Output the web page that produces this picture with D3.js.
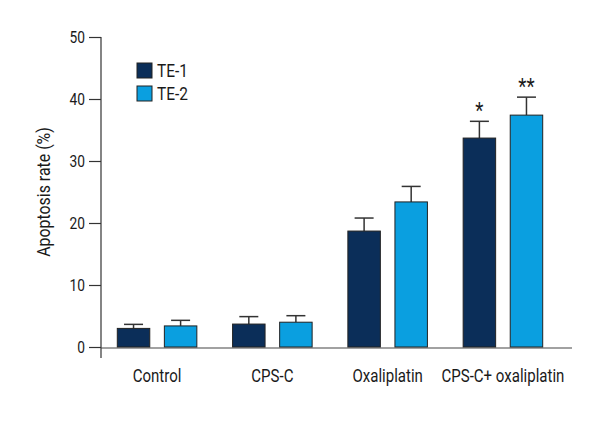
<!DOCTYPE html>
<html><head><meta charset="utf-8">
<script src="https://cdn.jsdelivr.net/npm/d3@7"></script>
<style>
html,body{margin:0;padding:0;background:#fff;}
text{font-family:Roboto,"Noto Sans",sans-serif;fill:#1a1a1a;}
</style></head>
<body><svg id="chart" width="600" height="440"></svg>
<script>
const categories = ["Control", "CPS-C", "Oxaliplatin", "CPS-C+ oxaliplatin"];
const seriesNames = ["TE-1", "TE-2"];
const te1 = [3.0, 3.7, 18.7, 33.7];
const te2 = [3.4, 4.0, 23.4, 37.4];
const te1Err = [0.65, 1.2, 2.1, 2.7];
const te2Err = [0.9, 1.05, 2.5, 2.9];
const te1Sig = ["", "", "", "*"];
const te2Sig = ["", "", "", "**"];
const yTicks = [0, 10, 20, 30, 40, 50];
const colors = ["#0b2e59", "#0a9fe0"];

const svg = d3.select("#chart");
const W = 600, H = 440;
const m = {left: 101, right: 28, top: 37, bottom: 93};
const SX = 0.86; // horizontal condensing of text

const x = d3.scaleBand().domain(categories).range([100, 560]).paddingInner(0.31).paddingOuter(0.15);
const sub = d3.scaleBand().domain(seriesNames).range([0, x.bandwidth()]).paddingInner(0.31);
const y = d3.scaleLinear().domain([0, 50]).range([H - m.bottom, m.top]);

function label(g, px, py, str, size, anchor, rot) {
  return g.append("text")
    .attr("transform", `translate(${px},${py})` + (rot ? ` rotate(${rot})` : "") + ` scale(${SX},1)`)
    .attr("text-anchor", anchor).style("font-size", size + "px").text(str);
}

// y axis
const yAx = svg.append("g").attr("transform", `translate(${m.left},0)`)
  .call(d3.axisLeft(y).tickValues(yTicks).tickSize(12).tickPadding(3));
yAx.select(".domain").attr("d", `M0,${y(50)}V${y(0) + 11}`);
yAx.selectAll("line,path").attr("stroke", "#333").attr("stroke-width", 1.2);
yAx.selectAll(".tick text").remove();
yAx.selectAll(".tick").each(function(d) {
  label(d3.select(this), -16, 5.5, d, 16, "end");
});

// x axis line
svg.append("line").attr("x1", m.left).attr("x2", W - m.right)
  .attr("y1", y(0) + 1).attr("y2", y(0) + 1).attr("stroke", "#444").attr("stroke-width", 1.2);

const series = [
  {name: seriesNames[0], vals: te1, err: te1Err, sig: te1Sig, color: colors[0]},
  {name: seriesNames[1], vals: te2, err: te2Err, sig: te2Sig, color: colors[1]}
];

series.forEach(s => {
  const g = svg.append("g");
  categories.forEach((c, i) => {
    const x0 = x(c) + sub(s.name);
    const bw = sub.bandwidth();
    const cx = x0 + bw / 2;
    const top = y(s.vals[i] + s.err[i]);
    g.append("line").attr("x1", cx).attr("x2", cx).attr("y1", y(s.vals[i])).attr("y2", top)
      .attr("stroke", "#333").attr("stroke-width", 1.5);
    g.append("line").attr("x1", cx - 9.5).attr("x2", cx + 9.5).attr("y1", top).attr("y2", top)
      .attr("stroke", "#333").attr("stroke-width", 1.5);
    g.append("rect").attr("x", x0).attr("y", y(s.vals[i])).attr("width", bw).attr("height", y(0) - y(s.vals[i]))
      .attr("fill", s.color).attr("stroke", "#222").attr("stroke-width", 1);
    if (s.sig[i]) {
      label(g, cx, top - 3, s.sig[i], 22, "middle");
    }
  });
});

// x labels
const xl = svg.append("g");
categories.forEach(c => label(xl, x(c) + x.bandwidth() / 2, y(0) + 35, c, 17.5, "middle"));

// y label
label(svg, 50, (y(0) + y(50)) / 2, "Apoptosis rate (%)", 18.5, "middle", -90);

// legend
const lg = svg.append("g").attr("transform", "translate(137,63)");
seriesNames.forEach((n, i) => {
  lg.append("rect").attr("x", 0).attr("y", i * 23).attr("width", 15).attr("height", 15)
    .attr("fill", colors[i]).attr("stroke", "#222").attr("stroke-width", 1);
  label(lg, 20, i * 23 + 14, n, 18, "start");
});
</script></body></html>
